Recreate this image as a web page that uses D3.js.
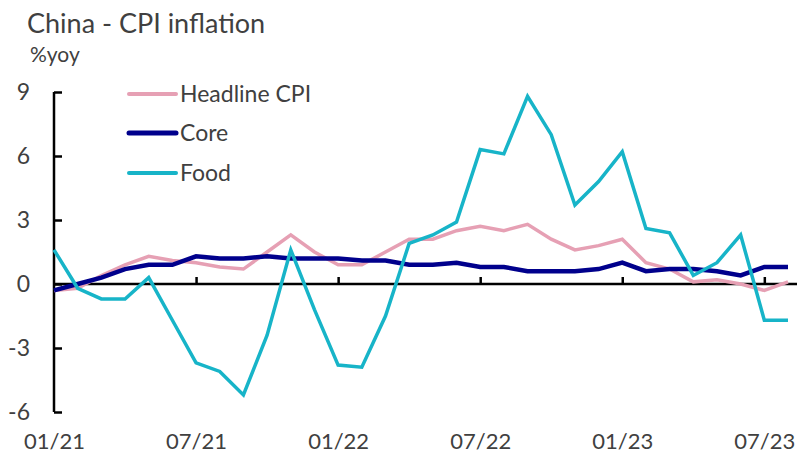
<!DOCTYPE html>
<html>
<head>
<meta charset="utf-8">
<script src="https://cdn.jsdelivr.net/npm/d3@7"></script>
<style>
  body { margin: 0; background: #fff; }
  svg { display: block; font-family: Lato, "Open Sans", sans-serif; }
  .axis path, .axis line { stroke: #000; stroke-width: 2.5; }
  .axis text { fill: #404040; font-size: 23px; font-family: Lato, sans-serif; }
  .xlab text { font-size: 22px; }
</style>
</head>
<body>
<div class="chartHolder"></div>
<script>
// monthly, Jan 2021 .. Aug 2023
var months = ["01/21","02/21","03/21","04/21","05/21","06/21","07/21","08/21","09/21","10/21","11/21","12/21",
              "01/22","02/22","03/22","04/22","05/22","06/22","07/22","08/22","09/22","10/22","11/22","12/22",
              "01/23","02/23","03/23","04/23","05/23","06/23","07/23","08/23"];
var headline = [-0.3,-0.2,0.4,0.9,1.3,1.1,1.0,0.8,0.7,1.5,2.3,1.5,
                0.9,0.9,1.5,2.1,2.1,2.5,2.7,2.5,2.8,2.1,1.6,1.8,
                2.1,1.0,0.7,0.1,0.2,0.0,-0.3,0.1];
var core = [-0.3,0.0,0.3,0.7,0.9,0.9,1.3,1.2,1.2,1.3,1.2,1.2,
            1.2,1.1,1.1,0.9,0.9,1.0,0.8,0.8,0.6,0.6,0.6,0.7,
            1.0,0.6,0.7,0.7,0.6,0.4,0.8,0.8];
var food = [1.6,-0.2,-0.7,-0.7,0.3,-1.7,-3.7,-4.1,-5.2,-2.4,1.6,-1.2,
            -3.8,-3.9,-1.5,1.9,2.3,2.9,6.3,6.1,8.8,7.0,3.7,4.8,
            6.2,2.6,2.4,0.4,1.0,2.3,-1.7,-1.7];
var yTicks = [-6, -3, 0, 3, 6, 9];
var xTickIdx = [0, 6, 12, 18, 24, 30];

var seriesNames = ["Headline CPI", "Core", "Food"];
var colors = ["#e6a0b4", "#00008c", "#17b4c8"];
var widths = [3.5, 4.5, 3.5];
var series = [headline, core, food];

var svgW = 799, svgH = 455;
var svg = d3.select(".chartHolder").append("svg").attr("width", svgW).attr("height", svgH);

var xScale = d3.scaleLinear().domain([0, months.length - 1]).range([54, 788]);
var yScale = d3.scaleLinear().domain([-6, 9]).range([412, 92]);

// title
svg.append("text").attr("x", 27).attr("y", 33).text("China - CPI inflation")
  .attr("font-size", "27px").attr("fill", "#404040");
svg.append("text").attr("x", 30).attr("y", 62).text("%yoy")
  .attr("font-size", "21px").attr("fill", "#404040");

// y axis
var yAxis = d3.axisLeft(yScale).tickValues(yTicks).tickSize(-8).tickPadding(24)
  .tickFormat(function (d) { return String(d); });
svg.append("g").attr("class", "axis").attr("transform", "translate(54,0)").call(yAxis)
  .call(function (g) { g.select(".domain").attr("d", "M0," + yScale(-6) + "V" + yScale(9)); });

// zero line with ticks pointing up
var zeroAxis = d3.axisTop(xScale).tickValues(xTickIdx.slice(1)).tickSize(7).tickFormat("");
svg.append("g").attr("class", "axis").attr("transform", "translate(0," + yScale(0) + ")").call(zeroAxis)
  .call(function (g) { g.select(".domain").attr("d", "M54,0H797"); });

// x labels at bottom
var xLabels = d3.axisBottom(xScale).tickValues(xTickIdx).tickSize(0).tickPadding(0)
  .tickFormat(function (d) { return months[d]; });
svg.append("g").attr("class", "axis xlab").attr("transform", "translate(0,433)").call(xLabels)
  .call(function (g) { g.select(".domain").remove(); });

// lines
var line = d3.line().x(function (d, i) { return xScale(i); }).y(function (d) { return yScale(d); });
series.forEach(function (s, k) {
  svg.append("path").datum(s).attr("d", line).attr("fill", "none")
    .attr("stroke", colors[k]).attr("stroke-width", widths[k]).attr("stroke-linejoin", "miter");
});

// legend
var legY = [94, 133, 173];
seriesNames.forEach(function (name, k) {
  svg.append("line").attr("x1", 129).attr("x2", 176).attr("y1", legY[k]).attr("y2", legY[k])
    .attr("stroke", colors[k]).attr("stroke-width", widths[k] + 0.5).attr("stroke-linecap", "round");
  svg.append("text").attr("x", 180).attr("y", legY[k] + 8).text(name)
    .attr("font-size", "23px").attr("fill", "#404040");
});
</script>
</body>
</html>
